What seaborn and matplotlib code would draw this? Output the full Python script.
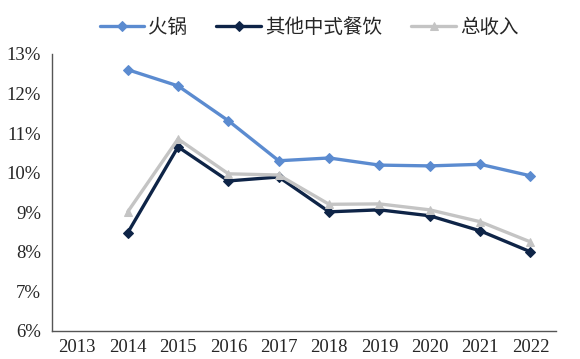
import numpy as np
import pandas as pd
import matplotlib
matplotlib.use('Agg')
import matplotlib.pyplot as plt
import seaborn as sns

years = ['2013', '2014', '2015', '2016', '2017', '2018', '2019', '2020', '2021', '2022']
hotpot = [np.nan, 12.6, 12.19, 11.31, 10.30, 10.37, 10.19, 10.17, 10.21, 9.92]
other_cn = [np.nan, 8.48, 10.65, 9.79, 9.89, 9.01, 9.06, 8.91, 8.53, 8.00]
total = [np.nan, 9.01, 10.85, 9.97, 9.94, 9.20, 9.21, 9.06, 8.76, 8.25]

series_names = ['火锅', '其他中式餐饮', '总收入']
colors = ['#5B8BD0', '#0E2447', '#C4C4C4']
markers = ['D', 'D', '^']

sns.set_style('white')
plt.rcParams['font.family'] = ['Liberation Serif', 'Noto Sans CJK SC']

df = pd.DataFrame({'year': years, '火锅': hotpot, '其他中式餐饮': other_cn, '总收入': total})
df['pos'] = np.arange(len(years))

fig = plt.figure(figsize=(5.8, 3.59), dpi=100)
ax = fig.add_axes([0.09, 0.078, 0.868, 0.772])

for name, c, m in zip(series_names, colors, markers):
    sns.lineplot(data=df, x='pos', y=name, ax=ax, color=c, marker=m,
                 markersize=5 if m == 'D' else 6, markeredgecolor=c,
                 linewidth=2.4, label=name)

ax.set_xlim(-0.5, len(years) - 0.5)
ax.set_ylim(6, 13)
ax.set_yticks(range(6, 14))
ax.set_yticklabels([f'{v}%' for v in range(6, 14)], fontsize=13.5)
ax.set_xticks(np.arange(-0.5, len(years)), labels=[])
ax.set_xticks(np.arange(len(years)), labels=years, minor=True, fontsize=13.5)
ax.tick_params(axis='x', which='major', direction='in', length=5, color='#555555')
ax.tick_params(axis='x', which='minor', length=0, pad=6)
ax.tick_params(axis='y', which='major', direction='out', length=4, color='#555555', pad=4)
ax.set_xlabel('')
ax.set_ylabel('')
for s in ['top', 'right']:
    ax.spines[s].set_visible(False)
for s in ['left', 'bottom']:
    ax.spines[s].set_color('#555555')
    ax.spines[s].set_linewidth(1)

ax.legend(loc='center', bbox_to_anchor=(0.51, 1.095), ncol=3, frameon=False,
          handlelength=2.3, columnspacing=1.5, handletextpad=0.2,
          prop={'family': ['Noto Sans CJK SC'], 'size': 14})

fig.savefig('out.png', dpi=100)
